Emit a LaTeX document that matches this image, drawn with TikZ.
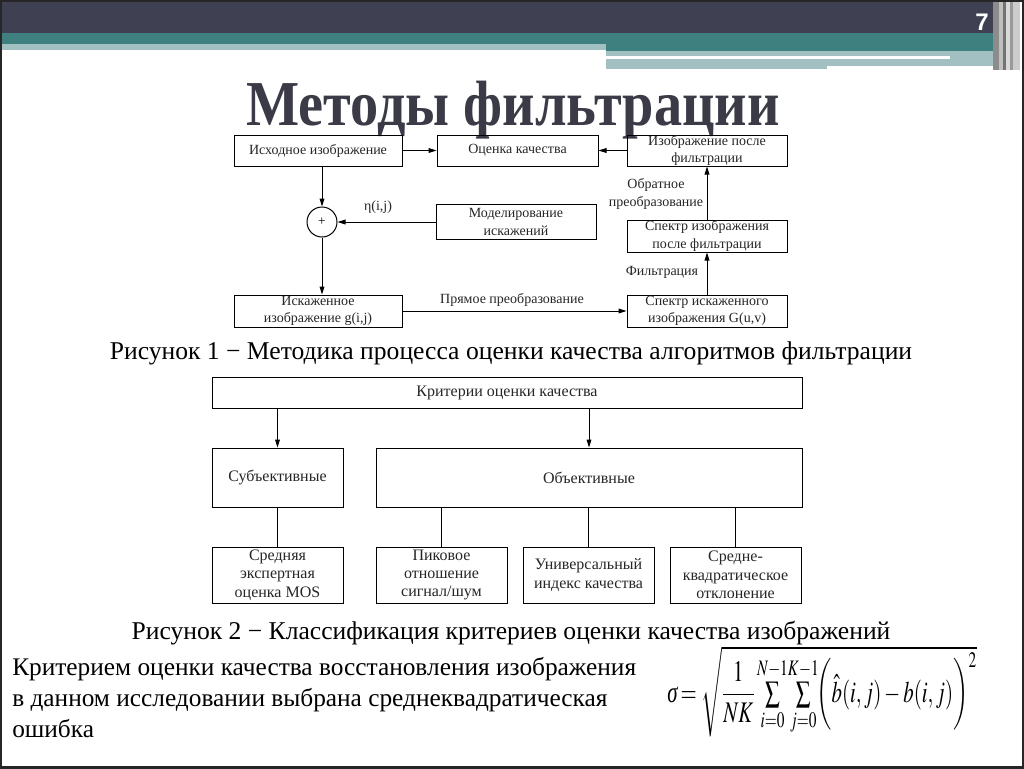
\documentclass[tikz,border=0pt]{standalone}
\usepackage{amsmath}
\usepackage{mathptmx}
\usepackage{fontspec}
\setmainfont{Liberation Serif}
\newfontfamily\titlefont[FakeStretch=0.88]{Liberation Serif}
\newfontfamily\numfont{Liberation Sans}
\usetikzlibrary{arrows.meta}
\newdimen\pxu \pxu=0.75pt
\definecolor{slatebar}{RGB}{63,64,81}
\definecolor{tealbar}{RGB}{62,127,128}
\definecolor{lightteal}{RGB}{162,192,193}
\definecolor{titlegray}{RGB}{59,59,72}
\tikzset{
  flowbox/.style={draw, line width=0.75pt, inner sep=0pt, align=center, text=black!85,
    font=\fontsize{10.5}{13}\selectfont},
  critbox/.style={draw, line width=0.75pt, inner sep=0pt, align=center, text=black!85,
    font=\fontsize{12}{13.75}\selectfont},
  flowlabel/.style={inner sep=0pt, align=center, text=black!85, font=\fontsize{10.5}{13}\selectfont},
  arr/.style={-{Triangle[length=6pt,width=3.6pt]}, line width=0.75pt},
  caption/.style={anchor=base, inner sep=0pt, font=\fontsize{19.2}{22}\selectfont}
}
\begin{document}
\begin{tikzpicture}[x=0.75pt,y=-0.75pt]
  %%%%% FRAME AND HEADER %%%%%
  \useasboundingbox (0,0) rectangle (1024,768);
  \fill[white] (0,0) rectangle (1024,768);

  \fill[slatebar] (0,0) rectangle (993,33);
  \fill[tealbar] (0,33) rectangle (993,44);
  \fill[lightteal] (0,44) rectangle (606,50);
  \fill[tealbar] (606,44) rectangle (993,51);
  \fill[lightteal] (606,51) rectangle (993,66);
  \fill[lightteal] (606,66) rectangle (827,69);
  \fill[white] (606,56) rectangle (950,59);

  \fill[black!45] (993,0) rectangle (999,70);
  \fill[black!25] (999,0) rectangle (1003,70);
  \fill[black!55] (1003,0) rectangle (1006,70);
  \fill[black!15] (1006,0) rectangle (1010,70);
  \fill[black!40] (1010,0) rectangle (1013,70);
  \fill[black!20] (1013,0) rectangle (1020,70);

  \node[anchor=base, inner sep=0pt, text=white, font=\numfont\bfseries\fontsize{18}{20}\selectfont] (pagenum) at (982,30) {7};

  \node[anchor=base, inner sep=0pt, text=titlegray, font=\titlefont\bfseries\fontsize{48}{50}\selectfont] (title) at (513,125) {Методы фильтрации};

  %%%%% FIGURE 1 %%%%%
  \node[flowbox, minimum width=168\pxu, minimum height=31\pxu] (srcimg) at (318,150.5) {Исходное изображение};
  \node[flowbox, minimum width=161\pxu, minimum height=31\pxu] (quality) at (517.5,150.5) {Оценка качества};
  \node[flowbox, minimum width=160\pxu, minimum height=31\pxu] (filtimg) at (707,150.5) {Изображение после\\фильтрации};

  \node[draw, circle, line width=0.75pt, minimum size=30\pxu, inner sep=0pt, font=\fontsize{10}{12}\selectfont] (plus) at (322,222) {+};
  \node[flowbox, minimum width=160\pxu, minimum height=35\pxu] (noise) at (516,222) {Моделирование\\искажений};
  \node[flowbox, minimum width=160\pxu, minimum height=32\pxu] (filtspec) at (707,236) {Спектр изображения\\после фильтрации};

  \node[flowbox, minimum width=168\pxu, minimum height=32\pxu] (distimg) at (318,311) {Искаженное\\изображение g(i,j)};
  \node[flowbox, minimum width=160\pxu, minimum height=32\pxu] (distspec) at (707,311) {Спектр искаженного\\изображения G(u,v)};

  \draw[arr] (srcimg) -- (quality);
  \draw[arr] (filtimg) -- (quality);
  \draw[arr] (srcimg.south -| plus) -- (plus);
  \draw[arr] (noise) -- (plus);
  \draw[arr] (plus) -- (distimg.north -| plus);
  \draw[arr] (distimg) -- (distspec);
  \draw[arr] (distspec) -- (filtspec);
  \draw[arr] (filtspec) -- (filtimg);

  \node[flowlabel] (eta) at (378,207) {η(i,j)};
  \node[flowlabel] (inverse) at (656,194) {Обратное\\преобразование};
  \node[flowlabel] (filtering) at (662,272) {Фильтрация};
  \node[flowlabel] (forward) at (512,300) {Прямое преобразование};

  \node[caption] (cap1) at (511,359) {Рисунок 1 − Методика процесса оценки качества алгоритмов фильтрации};

  %%%%% FIGURE 2 %%%%%
  \node[critbox, minimum width=590\pxu, minimum height=31\pxu] (criteria) at (507,392.5) {Критерии оценки качества};
  \node[critbox, minimum width=131\pxu, minimum height=59\pxu] (subj) at (277.5,477.5) {Субъективные};
  \node[critbox, minimum width=426\pxu, minimum height=59\pxu] (obj) at (589,477.5) {Объективные};

  \node[critbox, minimum width=131\pxu, minimum height=56\pxu] (mos) at (277.5,575) {Средняя\\экспертная\\оценка MOS};
  \node[critbox, minimum width=131\pxu, minimum height=56\pxu] (psnr) at (441.5,575) {Пиковое\\отношение\\сигнал/шум};
  \node[critbox, minimum width=131\pxu, minimum height=56\pxu] (uiqi) at (588.5,575) {Универсальный\\индекс качества};
  \node[critbox, minimum width=131\pxu, minimum height=56\pxu] (rmse) at (735.5,575) {Средне-\\квадратическое\\отклонение};

  \draw[arr] (criteria.south -| subj) -- (subj);
  \draw[arr] (criteria.south -| obj) -- (obj);
  \draw[line width=0.75pt] (subj) -- (mos);
  \draw[line width=0.75pt] (obj.south -| psnr) -- (psnr);
  \draw[line width=0.75pt] (obj.south -| uiqi) -- (uiqi);
  \draw[line width=0.75pt] (obj.south -| rmse) -- (rmse);

  \node[caption] (cap2) at (511,639) {Рисунок 2 − Классификация критериев оценки качества изображений};

  %%%%% TEXT AND FORMULA %%%%%
  \node[anchor=base west, inner sep=0pt, align=left, font=\fontsize{19}{23.25}\selectfont] (body) at (12,737)
    {Критерием оценки качества восстановления изображения\\в данном исследовании выбрана среднеквадратическая\\ошибка};

  \node[anchor=base west, inner sep=0pt, font=\fontsize{19.5}{22}\selectfont] (formula) at (667,702)
    {\scalebox{0.8}[1.15]{\textit{σ}$\,=\sqrt{\dfrac{1}{NK}\sum\limits_{i=0}^{N-1}\!\sum\limits_{j=0}^{K-1}\!\biggl(\hat{b}(i,j)-b(i,j)\biggr)^{2}}$}};

  \draw[line width=3pt, black!85] (0,0) rectangle (1024,768);
\end{tikzpicture}
\end{document}
